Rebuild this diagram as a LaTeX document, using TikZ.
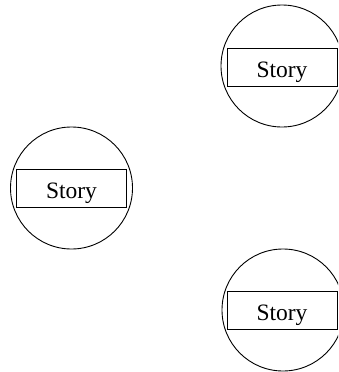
\documentclass[tikz,border=0pt]{standalone}
\usepackage{fontspec}
\setmainfont{Liberation Serif}
\begin{document}
\begin{tikzpicture}[x=1pt,y=-1pt,
  ring/.style={circle,draw,line width=0.9pt,minimum size=122pt,inner sep=0pt},
  storybox/.style={rectangle,draw,line width=0.9pt,minimum width=110pt,minimum height=38pt,inner sep=0pt,
    text height=20.6pt,text depth=0pt,font=\fontsize{23.5}{26}\selectfont}]
\useasboundingbox (0,0) rectangle (338,372);
\clip (0,0) rectangle (338,372);
\node[ring] (c1) at (282,66) {};
\node[storybox] (s1) at (282,67) {Story};
\node[ring] (c2) at (71.5,188) {};
\node[storybox] (s2) at (71.5,188.5) {Story};
\node[ring] (c3) at (283,310) {};
\node[storybox] (s3) at (282,310) {Story};
\end{tikzpicture}
\end{document}
